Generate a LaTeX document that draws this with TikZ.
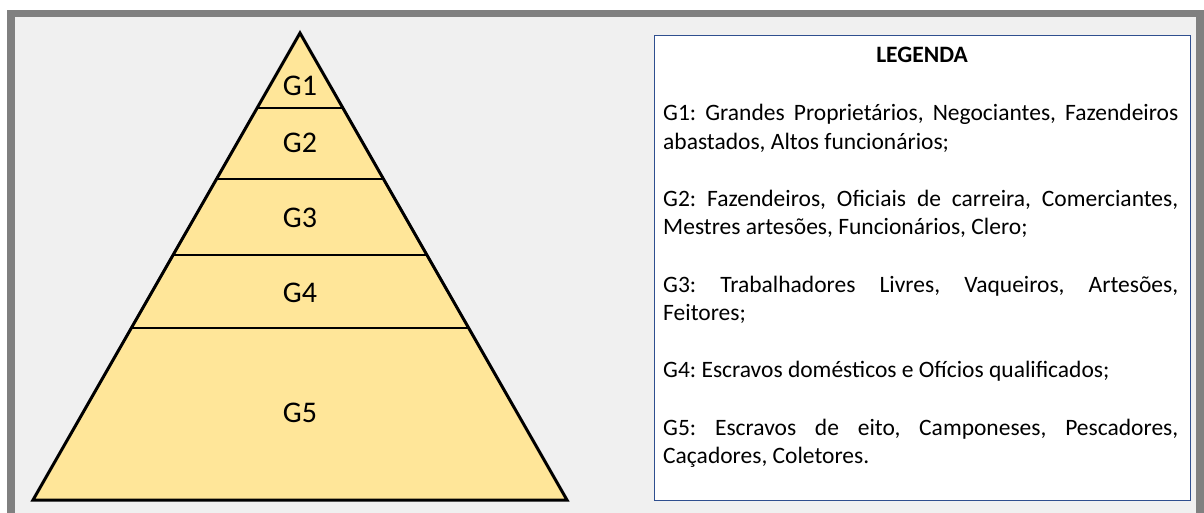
\documentclass[tikz,border=0pt]{standalone}
\usepackage{fontspec}
\setmainfont{Carlito}
\usetikzlibrary{calc}
\frenchspacing

\definecolor{framegray}{HTML}{808080}
\definecolor{paper}{HTML}{F0F0F0}
\definecolor{pyrfill}{HTML}{FFE699}
\definecolor{boxblue}{HTML}{2F4F8F}

\tikzset{
  level/.style={font=\fontsize{30}{34}\selectfont},
  legendtext/.style={text width=515pt, align=justify, inner sep=0pt, anchor=north west,
    font=\fontsize{23.5}{28.6}\selectfont}
}

\begin{document}
\begin{tikzpicture}[x=1pt, y=-1pt]

			\useasboundingbox (0,0) rectangle (1204,513);
			\fill[framegray] (7,10) rectangle (1204,513);
			\fill[paper] (15,17) rectangle (1196,513);

			\coordinate (apex) at (300,33);
			\coordinate (baseL) at (33,500);
			\coordinate (baseR) at (567,500);

			\filldraw[fill=pyrfill, draw=black, line width=3pt] (apex) -- (baseR) -- (baseL) -- cycle;

			\foreach \i/\t in {1/0.1606, 2/0.3126, 3/0.4754, 4/0.6317}{
				\coordinate (cutL\i) at ($(apex)!\t!(baseL)$);
				\coordinate (cutR\i) at ($(apex)!\t!(baseR)$);
				\draw[line width=2pt] (cutL\i) -- (cutR\i);
			}

			\node[level] (g1) at (300,86) {G1};
			\node[level] (g2) at (300,143) {G2};
			\node[level] (g3) at (300,218) {G3};
			\node[level] (g4) at (300,293) {G4};
			\node[level] (g5) at (300,413) {G5};

			\node[draw=boxblue, fill=white, line width=1pt, anchor=north west, minimum width=536pt, minimum height=465pt] (legend) at (654,35) {};
			\node[font=\fontsize{23.5}{28.6}\selectfont\bfseries] (legendtitle) at (922,55) {LEGENDA};

			\node[legendtext] (legenditems) at (663,104) {G1: Grandes Proprietários, Negociantes, Fazendeiros abastados, Altos funcionários;\\[28.6pt]
				G2: Fazendeiros, Oficiais de carreira, Comerciantes, Mestres artesões, Funcionários, Clero;\\[28.6pt]
				G3: Trabalhadores Livres, Vaqueiros, Artesões, Feitores;\\[28.6pt]
				G4: Escravos domésticos e Ofícios qualificados;\\[28.6pt]
				G5: Escravos de eito, Camponeses, Pescadores, Caçadores, Coletores.};

\end{tikzpicture}
\end{document}
